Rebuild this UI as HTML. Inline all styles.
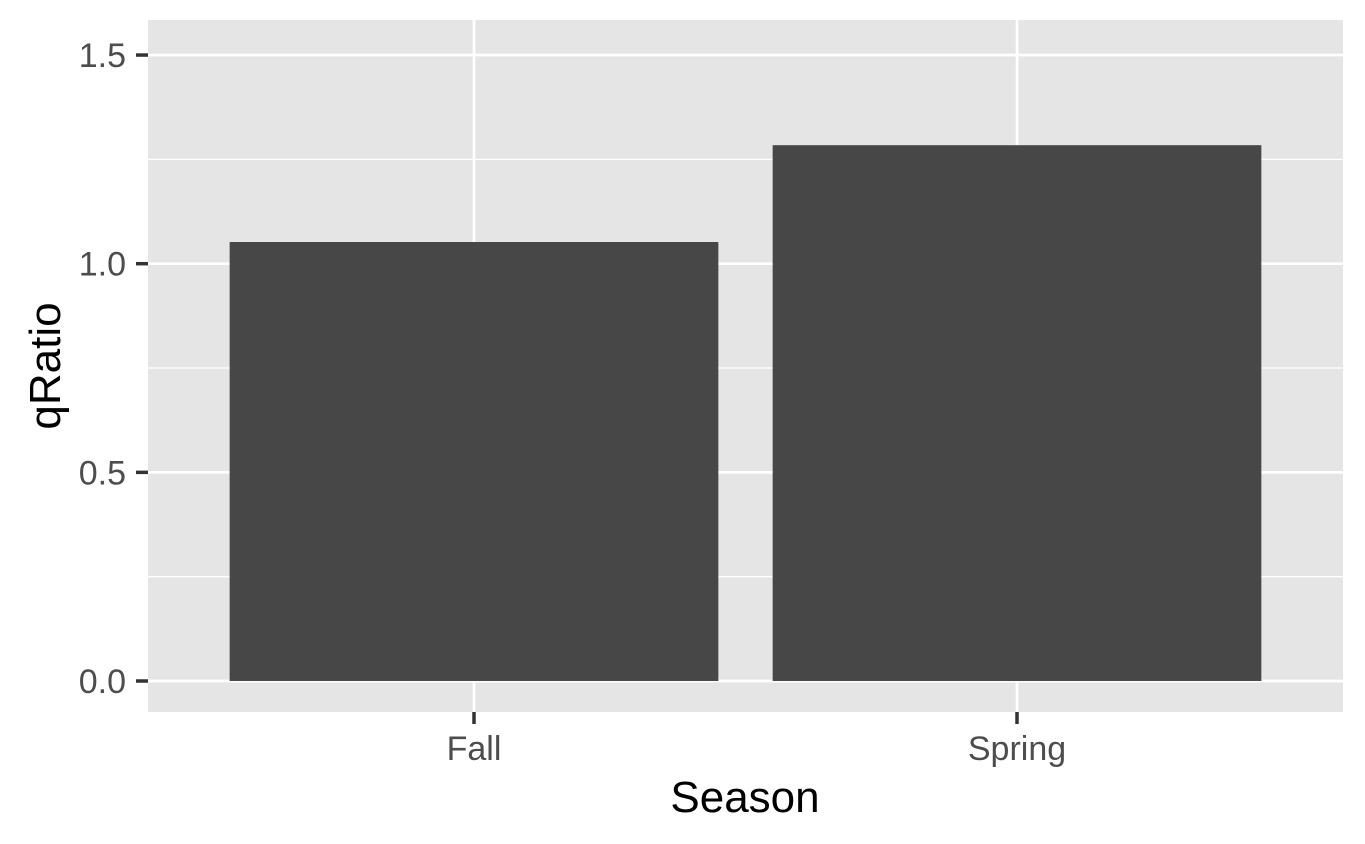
<!DOCTYPE html>
<html><head><meta charset="utf-8"><style>
body{margin:0;background:#fff;}
svg{display:block;font-family:"Liberation Sans",Arial,sans-serif;}
</style></head><body>
<svg id="chart" width="1365" height="844">
<rect x="148" y="20" width="1195" height="692" fill="#e5e5e5"/>
<g id="grid"></g><g id="bars"></g><g id="axes"></g>
<text x="745" y="812" font-size="44" text-anchor="middle" fill="#000">Season</text>
<text transform="translate(60,366) rotate(-90)" font-size="44" text-anchor="middle" fill="#000">qRatio</text>
</svg>
<script>
const categories=["Fall","Spring"];
const values=[1.052,1.284];
const yTicks=[0,0.5,1.0,1.5];
const yTickLabels=["0.0","0.5","1.0","1.5"];
const yMinor=[0.25,0.75,1.25];
const NS="http://www.w3.org/2000/svg";
const y=v=>681-v*417.3;
const band=543, x0=474-band/2;
const xc=i=>x0+band*(i+0.5);
function mk(t,a,p){const e=document.createElementNS(NS,t);for(const k in a)e.setAttribute(k,a[k]);p.appendChild(e);return e;}
const g=document.getElementById('grid'),b=document.getElementById('bars'),ax=document.getElementById('axes');
yMinor.forEach(v=>{const l=mk('line',{x1:148,x2:1343,y1:y(v),y2:y(v),stroke:'#fff','stroke-width':1.3},g);

});
yTicks.forEach((v,i)=>{const l=mk('line',{x1:148,x2:1343,y1:y(v),y2:y(v),stroke:'#fff','stroke-width':2.7},g);


const t=mk('line',{x1:136,x2:148,y1:y(v),y2:y(v),stroke:'#333','stroke-width':3.5},ax);


const tx=mk('text',{x:126,y:y(v)+12,'font-size':34,'text-anchor':'end',fill:'#4d4d4d'},ax);tx.textContent=yTickLabels[i];

});
categories.forEach((c,i)=>{const cx=xc(i);
const l=mk('line',{x1:cx,x2:cx,y1:20,y2:712,stroke:'#fff','stroke-width':2.7},g);


const w=band*0.9;
const r=mk('rect',{x:cx-w/2,y:y(values[i]),width:w,height:y(0)-y(values[i]),fill:'#474747'},b);


const t=mk('line',{x1:cx,x2:cx,y1:712,y2:724,stroke:'#333','stroke-width':3.5},ax);


const tx=mk('text',{x:cx,y:760,'font-size':34,'text-anchor':'middle',fill:'#4d4d4d'},ax);tx.textContent=c;

});
</script>
</body></html>
